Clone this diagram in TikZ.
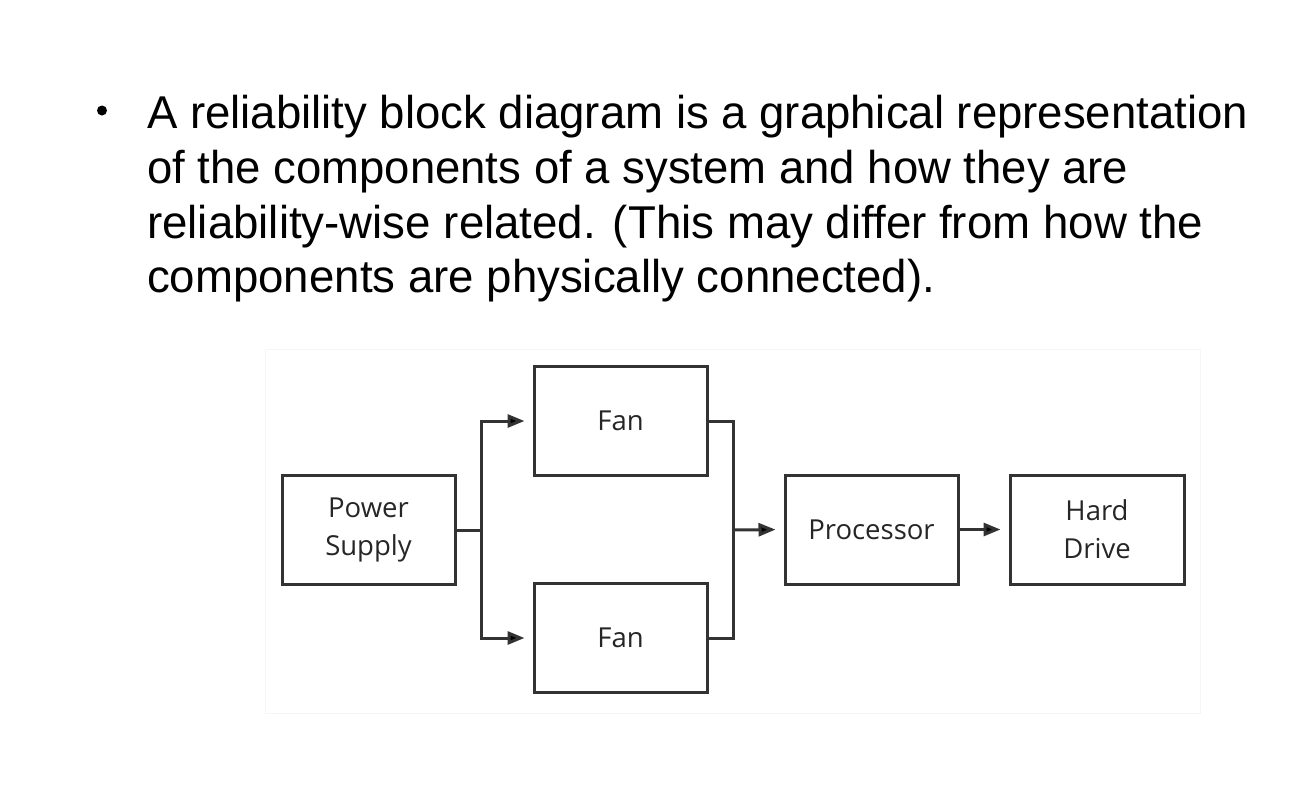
\documentclass[tikz,border=0pt]{standalone}
\usepackage{fontspec}
\usepackage{graphicx}
\setmainfont{Liberation Sans}
\newfontfamily\diagfont{Open Sans}
\usetikzlibrary{arrows.meta}
\definecolor{linegray}{HTML}{333333}
\definecolor{textgray}{HTML}{262626}
\newcommand{\fitline}[2]{\resizebox{#1pt}{\height}{#2}}
\begin{document}
\begin{tikzpicture}[x=1pt,y=-1pt,
  headline/.style={anchor=base west,inner sep=0pt,font=\fontsize{46}{50}\selectfont,text=black},
  blockbox/.style={draw=linegray,line width=3pt,minimum width=173pt,minimum height=109pt,inner sep=0pt,
    font=\diagfont\fontsize{27.5}{38}\selectfont,text=textgray,align=center},
  wire/.style={draw=linegray,line width=3pt},
  arr/.style={wire,shorten >=8pt,-{Triangle[length=17pt,width=13pt,fill=black]}}]
\useasboundingbox (0,0) rectangle (1315,788);
\fill[white] (0,0) rectangle (1315,788);
% bullet and heading
\fill[black] (102,110.5) circle (5pt);
\node[headline] (l1) at (147,128) {\fitline{1101}{A reliability block diagram is a graphical representation}};
\node[headline] (l2) at (147,183) {\fitline{981}{of the components of a system and how they are}};
\node[headline] (l3) at (147,238) {\fitline{1056}{reliability-wise related. (This may differ from how the}};
\node[headline] (l4) at (147,292) {\fitline{788}{components are physically connected).}};
% diagram panel
\draw[gray!8,line width=1pt] (265,349) rectangle (1200,713);
% blocks
\node[blockbox] (ps) at (368.5,530) {Power\\Supply};
\node[blockbox] (fan1) at (620.5,421) {Fan};
\node[blockbox] (fan2) at (620.5,638) {Fan};
\node[blockbox] (proc) at (871.5,529.5) {Processor};
\node[blockbox,minimum width=174pt] (hd) at (1097,529.5) {Hard\\Drive};
% connectors
\coordinate (fork) at (481,530);
\coordinate (merge) at (733,530);
\draw[wire] (ps.east) -- (fork);
\draw[arr] (fork) |- (fan1.west);
\draw[arr] (fork) |- (fan2.west);
\draw[wire] (fan1.east) -| (merge);
\draw[wire] (fan2.east) -| (merge);
\draw[arr] (merge) -- (proc.west);
\draw[arr] (proc.east) -- (hd.west);
\end{tikzpicture}
\end{document}
